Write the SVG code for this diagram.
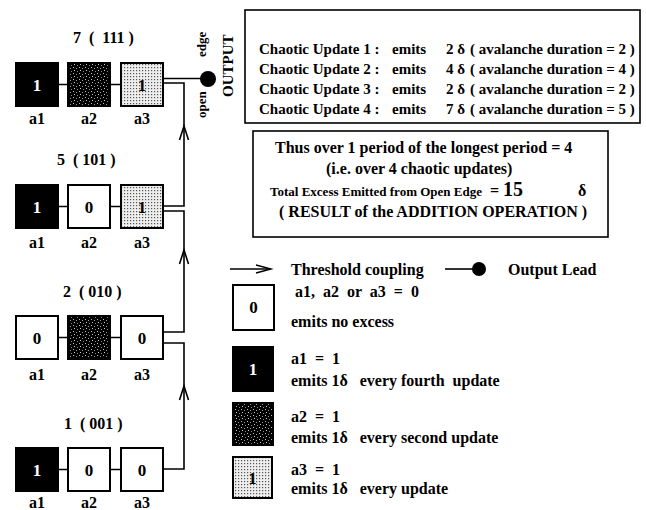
<svg xmlns="http://www.w3.org/2000/svg" width="646" height="510" viewBox="0 0 646 510">
<defs>
<style>
text{font-family:"Liberation Serif","Times New Roman",serif;font-weight:bold;font-size:15px;fill:#000;white-space:pre}
.cell{stroke:#000;stroke-width:2}
.w{fill:#fff}
.b{fill:#000}
.d{fill:url(#dark)}
.l{fill:url(#light)}
.num{text-anchor:middle;font-size:17px}
.wn{fill:#fff}
.lbl{text-anchor:middle;font-size:16px}
.rl{font-size:16px}
.ln{fill:none;stroke:#000;stroke-width:1.6}
.frame{fill:none;stroke:#000;stroke-width:1.6}
.leg{font-size:16px}
.res{font-size:16px}
.small{font-size:13px}
</style>
<pattern id="dark" width="6" height="6" patternUnits="userSpaceOnUse">
<rect width="6" height="6" fill="#000"/>
<rect x="1" y="1" width="1" height="1" fill="#bbb"/>
<rect x="4" y="2" width="1" height="1" fill="#999"/>
<rect x="2" y="4" width="1" height="1" fill="#ccc"/>
<rect x="5" y="5" width="1" height="1" fill="#888"/>
</pattern>
<pattern id="light" width="3" height="3" patternUnits="userSpaceOnUse">
<rect width="3" height="3" fill="#eee"/>
<rect x="1" y="1" width="1.2" height="1.2" fill="#555"/>
</pattern>
<path id="chevU" d="M-4.5,14 L0,0 L4.5,14" fill="none" stroke="#000" stroke-width="1.6"/>
</defs>

<!-- connectors -->
<g id="connectors">
<path class="ln" d="M58,84.5 H68 M110,84.5 H121"/>
<path class="ln" d="M58,206.5 H68 M110,206.5 H121"/>
<path class="ln" d="M58,337.5 H68 M110,337.5 H121"/>
<path class="ln" d="M58,469.5 H68 M110,469.5 H121"/>
<path class="ln" d="M163,78.5 H204"/>
<path class="ln" d="M163,469 H184 V343 H163"/>
<path class="ln" d="M163,332 H184 V211 H163"/>
<path class="ln" d="M163,206 H184 V83 H163"/>
<use href="#chevU" x="184" y="386"/>
<use href="#chevU" x="184" y="250"/>
<use href="#chevU" x="184" y="126"/>
<circle cx="208" cy="79" r="8" fill="#000"/>
</g>

<!-- row 7 (111) -->
<g id="row7">
<text class="rl" x="73" y="43">7  (  111 )</text>
<rect class="cell b" x="16" y="63" width="42" height="43"/>
<text class="num wn" x="37" y="91">1</text>
<rect class="cell d" x="68" y="63" width="42" height="43"/>
<rect class="cell l" x="121" y="63" width="42" height="43"/>
<text class="num" x="142" y="91">1</text>
<text class="lbl" x="37" y="124">a1</text>
<text class="lbl" x="89" y="124">a2</text>
<text class="lbl" x="142" y="124">a3</text>
</g>

<g id="output">
<text class="small" transform="translate(206,118) rotate(-90)">open</text>
<text class="small" transform="translate(206,57) rotate(-90)">edge</text>
<text transform="translate(233,97) rotate(-90)">OUTPUT</text>
</g>

<!-- row 5 (101) -->
<g id="row5">
<text class="rl" x="57" y="165">5  ( 101 )</text>
<rect class="cell b" x="16" y="185" width="42" height="43"/>
<text class="num wn" x="37" y="213">1</text>
<rect class="cell w" x="68" y="185" width="42" height="43"/>
<text class="num" x="89" y="213">0</text>
<rect class="cell l" x="121" y="185" width="42" height="43"/>
<text class="num" x="142" y="213">1</text>
<text class="lbl" x="37" y="248">a1</text>
<text class="lbl" x="89" y="248">a2</text>
<text class="lbl" x="142" y="248">a3</text>
</g>

<!-- row 2 (010) -->
<g id="row2">
<text class="rl" x="63" y="297">2  ( 010 )</text>
<rect class="cell w" x="16" y="316" width="42" height="43"/>
<text class="num" x="37" y="344">0</text>
<rect class="cell d" x="68" y="316" width="42" height="43"/>
<rect class="cell w" x="121" y="316" width="42" height="43"/>
<text class="num" x="142" y="344">0</text>
<text class="lbl" x="37" y="380">a1</text>
<text class="lbl" x="89" y="380">a2</text>
<text class="lbl" x="142" y="380">a3</text>
</g>

<!-- row 1 (001) -->
<g id="row1">
<text class="rl" x="64" y="429">1  ( 001 )</text>
<rect class="cell b" x="16" y="448" width="42" height="43"/>
<text class="num wn" x="37" y="476">1</text>
<rect class="cell w" x="68" y="448" width="42" height="43"/>
<text class="num" x="89" y="476">0</text>
<rect class="cell w" x="121" y="448" width="42" height="43"/>
<text class="num" x="142" y="476">0</text>
<text class="lbl" x="37" y="508">a1</text>
<text class="lbl" x="89" y="508">a2</text>
<text class="lbl" x="142" y="508">a3</text>
</g>

<!-- chaotic updates box -->
<g id="updates">
<rect class="frame" x="245" y="10" width="395" height="113"/>
<text y="54"><tspan x="259">Chaotic Update 1 :</tspan><tspan x="392">emits</tspan><tspan x="446">2 δ</tspan><tspan x="470">( avalanche duration = 2 )</tspan></text>
<text y="74"><tspan x="259">Chaotic Update 2 :</tspan><tspan x="392">emits</tspan><tspan x="446">4 δ</tspan><tspan x="470">( avalanche duration = 4 )</tspan></text>
<text y="94"><tspan x="259">Chaotic Update 3 :</tspan><tspan x="392">emits</tspan><tspan x="446">2 δ</tspan><tspan x="470">( avalanche duration = 2 )</tspan></text>
<text y="114"><tspan x="259">Chaotic Update 4 :</tspan><tspan x="392">emits</tspan><tspan x="446">7 δ</tspan><tspan x="470">( avalanche duration = 5 )</tspan></text>
</g>

<!-- result box -->
<g id="result">
<rect class="frame" x="253" y="131" width="355" height="106"/>
<text class="res" x="275" y="153">Thus over 1 period of the longest period = 4</text>
<text class="res" x="326" y="174">(i.e. over 4 chaotic updates)</text>
<text x="270" y="196" style="font-size:13px">Total Excess Emitted from Open Edge</text>
<text class="res" x="490" y="196">=</text>
<text x="503" y="196" style="font-size:20px">15</text>
<text class="res" x="578" y="196">δ</text>
<text class="res" x="279" y="217">( RESULT of the ADDITION OPERATION )</text>
</g>

<!-- legend -->
<g id="legend-coupling">
<path class="ln" d="M230,269 H271"/>
<path d="M256,265 L271,269 L256,273" fill="none" stroke="#000" stroke-width="1.4"/>
<text class="leg" x="291" y="275">Threshold coupling</text>
</g>
<g id="legend-output">
<path class="ln" d="M445,269 H475"/>
<circle cx="479" cy="269" r="7" fill="#000"/>
<text class="leg" x="508" y="275">Output Lead</text>
</g>
<g id="legend-zero">
<rect class="cell w" x="233" y="285" width="41" height="45"/>
<text class="num" x="253.5" y="313">0</text>
<text class="leg" x="295" y="297">a1,  a2  or  a3  =  0</text>
<text class="leg" x="291" y="327">emits no excess</text>
</g>
<g id="legend-a1">
<rect class="cell b" x="233" y="347" width="40" height="44"/>
<text class="num wn" x="253" y="375">1</text>
<text class="leg" x="291" y="364">a1  =  1</text>
<text class="leg" x="291" y="386">emits 1δ   every fourth  update</text>
</g>
<g id="legend-a2">
<rect class="cell d" x="233" y="403" width="40" height="42"/>
<text class="leg" x="291" y="422">a2  =  1</text>
<text class="leg" x="291" y="443">emits 1δ   every second update</text>
</g>
<g id="legend-a3">
<rect class="cell l" x="233" y="457" width="39" height="41"/>
<text class="num" x="252.5" y="484">1</text>
<text class="leg" x="291" y="475">a3  =  1</text>
<text class="leg" x="291" y="494">emits 1δ   every update</text>
</g>
</svg>
